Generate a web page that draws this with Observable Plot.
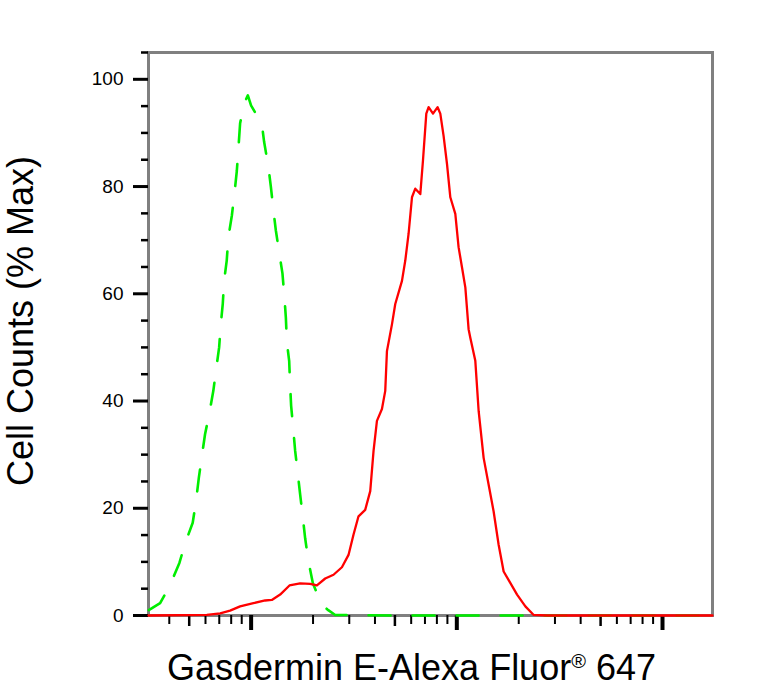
<!DOCTYPE html>
<html>
<head>
<meta charset="utf-8">
<script src="https://cdn.jsdelivr.net/npm/d3@7"></script>
<script src="https://cdn.jsdelivr.net/npm/@observablehq/plot@0.6"></script>
<style>
  html, body { margin: 0; padding: 0; background: #fff; }
</style>
</head>
<body>
<div id="chart"></div>
<script>
// Isotype control (green dashed): fluorescence intensity vs % max
const controlX = [318, 361, 404, 448, 478, 520, 540, 557, 576, 597, 627, 655, 676, 699, 711, 728, 739, 761, 775, 806, 829, 852, 867, 884, 925, 964, 1000, 1127, 1157, 1214, 1247, 1284, 1319, 1373, 1420, 1452, 1475, 1492, 1531, 1548, 1565, 1606, 1637, 1688, 1731, 1785, 1831, 1900, 1996, 2208, 2371, 2564, 5000, 20000, 175000];
const controlY = [1.0, 2.3, 5.7, 9.8, 13.5, 17.3, 21.4, 25.7, 29.7, 33.8, 37.8, 41.9, 45.9, 50.0, 54.0, 58.1, 62.4, 66.2, 70.5, 74.6, 78.6, 82.9, 87.0, 91.8, 95.5, 97.0, 95.1, 91.7, 88.3, 83.6, 80.0, 75.5, 71.8, 67.4, 63.8, 59.3, 55.6, 51.0, 47.5, 42.8, 39.1, 34.4, 30.7, 26.3, 22.6, 18.2, 14.4, 10.1, 6.0, 2.0, 1.0, 0.1, 0, 0, 0];

// Gasdermin E stained sample (red solid)
const sampleX = [317, 609, 707, 790, 884, 1026, 1170, 1261, 1384, 1536, 1731, 1937, 2088, 2292, 2515, 2763, 2975, 3147, 3327, 3586, 3794, 3937, 4089, 4325, 4488, 4574, 4838, 5020, 5412, 5616, 5828, 6053, 6281, 6644, 6848, 7106, 7292, 7660, 8065, 8312, 8626, 8961, 9299, 9833, 10200, 10600, 11000, 11410, 11630, 12300, 12770, 13500, 14280, 15100, 15970, 16890, 17870, 19630, 21540, 23640, 27480, 175000];
const sampleY = [0, 0.1, 0.4, 0.9, 1.7, 2.3, 2.8, 2.9, 3.9, 5.6, 6.0, 5.9, 5.6, 6.9, 7.6, 9.0, 11.3, 15.1, 18.5, 19.7, 23.2, 30.7, 36.3, 38.5, 41.9, 49.3, 54.3, 58.1, 62.4, 66.2, 71.2, 78.0, 79.6, 78.6, 84.9, 93.6, 94.8, 93.6, 94.8, 93.6, 89.4, 84.2, 78.0, 74.9, 68.7, 64.9, 61.2, 53.4, 51.8, 47.5, 38.1, 29.4, 24.4, 19.4, 13.2, 8.2, 6.6, 3.9, 1.7, 0.1, 0, 0];

// Axis ticks
const yMajorTicks = [0, 20, 40, 60, 80, 100];
const yMinorTicks = [5, 10, 15, 25, 30, 35, 45, 50, 55, 65, 70, 75, 85, 90, 95, 105];
const xMajorTicks = [1000, 10000, 100000];
const xMidTicks = [500, 5000, 50000];
const xMinorTicks = [400, 600, 700, 800, 900, 2000, 3000, 4000, 6000, 7000, 8000, 9000, 20000, 30000, 40000, 60000, 70000, 80000, 90000];

const xLabel = "Gasdermin E-Alexa Fluor® 647";
const yLabel = "Cell Counts (% Max)";

const control = controlX.map((x, i) => ({x, y: controlY[i]}));
const sample = sampleX.map((x, i) => ({x, y: sampleY[i]}));
const blank = () => "";

const chart = Plot.plot({
  width: 768,
  height: 695,
  marginLeft: 148,
  marginRight: 56,
  marginTop: 52,
  marginBottom: 80,
  style: {fontFamily: "'Liberation Sans', Arial, sans-serif", background: "#fff", color: "#000"},
  x: {type: "log", domain: [317, 175000]},
  y: {domain: [0, 105]},
  marks: [
    Plot.frame({stroke: "#808080", strokeWidth: 3}),
    Plot.axisY(yMajorTicks, {tickSize: 15, tickPadding: 10, strokeWidth: 3, fontSize: 19, label: null}),
    Plot.axisY(yMinorTicks, {tickSize: 7, strokeWidth: 2.5, tickFormat: blank, label: null}),
    Plot.axisX(xMajorTicks, {tickSize: 15, strokeWidth: 4, tickFormat: blank, label: null}),
    Plot.axisX(xMidTicks, {tickSize: 11, strokeWidth: 2.5, tickFormat: blank, label: null}),
    Plot.axisX(xMinorTicks, {tickSize: 9, strokeWidth: 2, tickFormat: blank, label: null}),
    Plot.line(control, {x: "x", y: "y", stroke: "#00ee00", strokeWidth: 2.6, strokeDasharray: "22,22"}),
    Plot.line(sample, {x: "x", y: "y", stroke: "#ff0000", strokeWidth: 2.3}),
    Plot.text([xLabel], {text: d => d, frameAnchor: "bottom", textAnchor: "middle", dx: -19, dy: 64, fontSize: 36, lineAnchor: "bottom", fill: "#000"}),
    Plot.text([yLabel], {text: d => d, frameAnchor: "left", textAnchor: "middle", rotate: -90, dx: -116, dy: -13, fontSize: 36, lineAnchor: "bottom", fill: "#000"})
  ]
});

// Superscript the registered mark in the x label
d3.select(chart).selectAll("text").each(function () {
  const t = this.textContent;
  if (t === xLabel) {
    const [before, after] = t.split("®");
    const sel = d3.select(this);
    sel.text(null);
    sel.append("tspan").text(before);
    sel.append("tspan").attr("font-size", 20).attr("dy", -12).text("®");
    sel.append("tspan").attr("dy", 12).text(after);
  }
});

document.getElementById("chart").appendChild(chart);
</script>
</body>
</html>
